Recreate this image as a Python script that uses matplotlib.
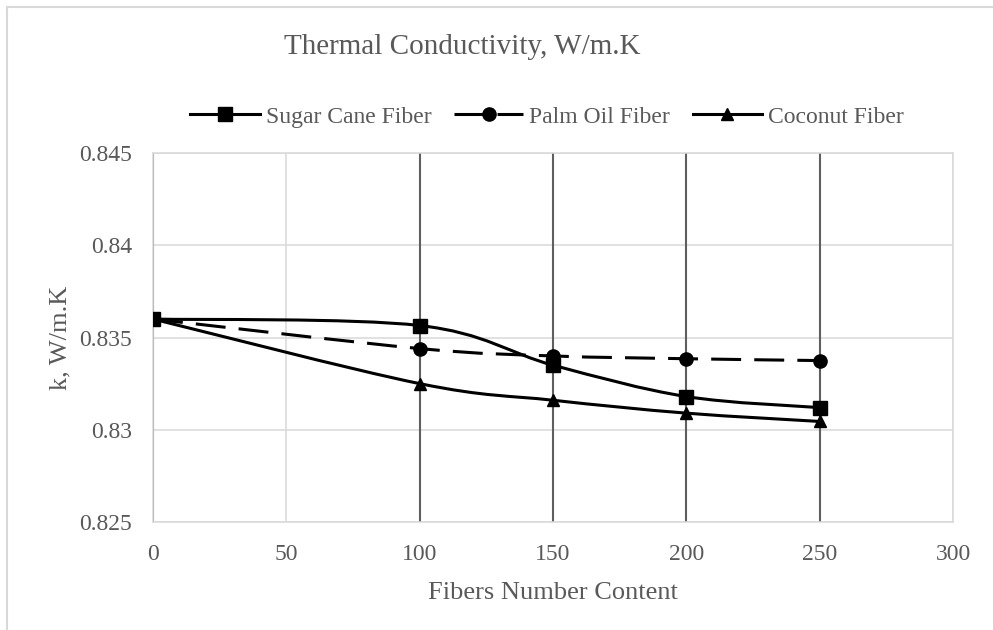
import matplotlib
matplotlib.use("Agg")
import matplotlib.pyplot as plt
from matplotlib.path import Path
from matplotlib.patches import PathPatch
from matplotlib.lines import Line2D
import numpy as np

fibers = [0, 100, 150, 200, 250]
sugar_cane = [0.8360, 0.83565, 0.8335, 0.8318, 0.8312]
palm_oil = [0.8360, 0.8344, 0.8340, 0.83385, 0.83375]
coconut = [0.8360, 0.8325, 0.8316, 0.8309, 0.83045]

series_names = ["Sugar Cane Fiber", "Palm Oil Fiber", "Coconut Fiber"]
x_ticks = [0, 50, 100, 150, 200, 250, 300]
y_ticks = [0.825, 0.83, 0.835, 0.84, 0.845]

txt = "#595959"
grid_c = "#d9d9d9"
plt.rcParams["font.family"] = ["Liberation Serif", "DejaVu Serif"]


def smooth_path(xs, ys):
    # excel style smoothed line (catmull-rom as cubic beziers)
    pts = np.column_stack([xs, ys])
    n = len(pts)
    verts = [pts[0]]
    codes = [Path.MOVETO]
    for i in range(n - 1):
        p0 = pts[max(i - 1, 0)]
        p1 = pts[i]
        p2 = pts[i + 1]
        p3 = pts[min(i + 2, n - 1)]
        verts += [p1 + (p2 - p0) / 6, p2 - (p3 - p1) / 6, p2]
        codes += [Path.CURVE4] * 3
    return Path(verts, codes)


fig = plt.figure(figsize=(9.93, 6.3), dpi=100)

# chart area border (cut off at right / bottom)
fig.add_artist(Line2D([7 / 993, 1], [1 - 7 / 630, 1 - 7 / 630], color=grid_c, lw=1.5))
fig.add_artist(Line2D([7 / 993, 7 / 993], [0, 1 - 7 / 630], color=grid_c, lw=1.5))

ax = fig.add_axes([153 / 993, 1 - 522 / 630, 800 / 993, 369 / 630])
ax.set_xlim(0, 300)
ax.set_ylim(0.825, 0.845)
ax.set_xticks(x_ticks)
ax.set_yticks(y_ticks)
ax.set_yticklabels([f"{v:g}" for v in y_ticks])
ax.grid(color=grid_c, lw=1.1, zorder=0)
ax.set_axisbelow(True)
for s in ax.spines.values():
    s.set_color(grid_c)
    s.set_linewidth(1.1)
ax.tick_params(length=0, labelsize=17, colors=txt)
ax.tick_params(axis="x", pad=16)
ax.tick_params(axis="y", pad=15)

ax.vlines(fibers, 0.825, 0.845, color="#5f5f5f", lw=1.5, zorder=2)

styles = [
    dict(marker="s", ms=9.5, ls="-"),
    dict(marker="o", ms=9.5, ls=(0, (9.8, 4.3))),
    dict(marker="^", ms=9, ls="-"),
]
handles = []
for vals, name, st in zip([sugar_cane, palm_oil, coconut], series_names, styles):
    patch = PathPatch(smooth_path(fibers, vals), fill=False, edgecolor="black",
                      lw=2.2, linestyle=st["ls"], zorder=3, capstyle="butt")
    ax.add_patch(patch)
    ax.plot(fibers, vals, ls="none", marker=st["marker"], ms=st["ms"],
            color="black", zorder=4)
    handles.append(Line2D([], [], color="black", lw=2.2, ls=st["ls"],
                          marker=st["marker"], ms=st["ms"], label=name))

fig.legend(handles=handles, loc="center", bbox_to_anchor=(547 / 993, 1 - 117 / 630),
           ncol=3, frameon=False, fontsize=17, handlelength=2.95,
           handletextpad=0.25, columnspacing=0.95, numpoints=1, labelcolor=txt)

fig.text(462 / 993, 1 - 47 / 630, "Thermal Conductivity, W/m.K", ha="center",
         va="center", fontsize=21, color=txt)
ax.set_xlabel("Fibers Number Content", fontsize=19, color=txt, labelpad=12)
ax.set_ylabel("k, W/m.K", fontsize=19, color=txt, labelpad=6)

fig.savefig("out.png", dpi=100)
